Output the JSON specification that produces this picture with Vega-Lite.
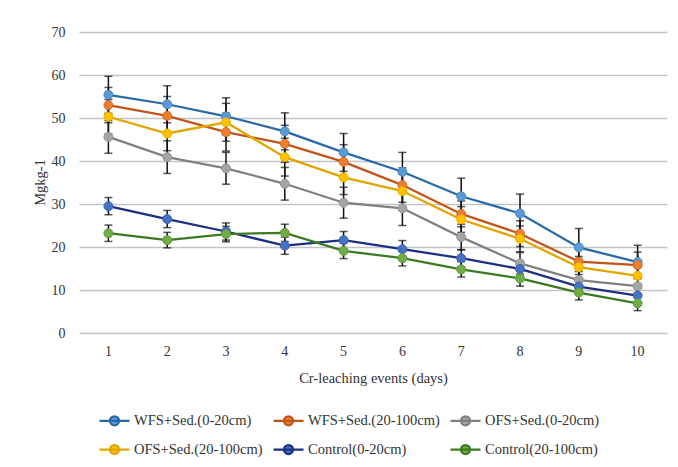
{
  "$schema": "https://vega.github.io/schema/vega-lite/v6.json",
  "width": 588,
  "height": 301,
  "autosize": "none",
  "padding": {"left": 79, "top": 32, "right": 11, "bottom": 134},
  "background": "white",
  "config": {
    "view": {"stroke": null},
    "font": "Liberation Serif",
    "axis": {"labelFont": "Liberation Serif", "titleFont": "Liberation Serif", "labelColor": "#333333", "titleColor": "#333333", "labelFontSize": 14, "titleFontSize": 14.5, "titleFontWeight": "normal"},
    "legend": {"labelFont": "Liberation Serif", "labelFontSize": 14.5, "labelColor": "#333333"}
  },
  "data": {
    "values": [
      {"day": 1, "series": "WFS+Sed.(0-20cm)", "value": 55.4, "err": 4.3},
      {"day": 2, "series": "WFS+Sed.(0-20cm)", "value": 53.2, "err": 4.3},
      {"day": 3, "series": "WFS+Sed.(0-20cm)", "value": 50.4, "err": 4.3},
      {"day": 4, "series": "WFS+Sed.(0-20cm)", "value": 46.9, "err": 4.3},
      {"day": 5, "series": "WFS+Sed.(0-20cm)", "value": 42.0, "err": 4.4},
      {"day": 6, "series": "WFS+Sed.(0-20cm)", "value": 37.5, "err": 4.5},
      {"day": 7, "series": "WFS+Sed.(0-20cm)", "value": 31.8, "err": 4.2},
      {"day": 8, "series": "WFS+Sed.(0-20cm)", "value": 27.8, "err": 4.5},
      {"day": 9, "series": "WFS+Sed.(0-20cm)", "value": 19.9, "err": 4.4},
      {"day": 10, "series": "WFS+Sed.(0-20cm)", "value": 16.5, "err": 3.9},
      {"day": 1, "series": "WFS+Sed.(20-100cm)", "value": 53.0, "err": 4.1},
      {"day": 2, "series": "WFS+Sed.(20-100cm)", "value": 50.5, "err": 4.5},
      {"day": 3, "series": "WFS+Sed.(20-100cm)", "value": 46.7, "err": 4.4},
      {"day": 4, "series": "WFS+Sed.(20-100cm)", "value": 44.0, "err": 4.3},
      {"day": 5, "series": "WFS+Sed.(20-100cm)", "value": 39.8, "err": 4.0},
      {"day": 6, "series": "WFS+Sed.(20-100cm)", "value": 34.4, "err": 4.0},
      {"day": 7, "series": "WFS+Sed.(20-100cm)", "value": 27.7, "err": 3.0},
      {"day": 8, "series": "WFS+Sed.(20-100cm)", "value": 23.1, "err": 3.0},
      {"day": 9, "series": "WFS+Sed.(20-100cm)", "value": 16.6, "err": 3.0},
      {"day": 10, "series": "WFS+Sed.(20-100cm)", "value": 15.8, "err": 3.0},
      {"day": 1, "series": "OFS+Sed.(0-20cm)", "value": 45.6, "err": 3.8},
      {"day": 2, "series": "OFS+Sed.(0-20cm)", "value": 40.9, "err": 3.8},
      {"day": 3, "series": "OFS+Sed.(0-20cm)", "value": 38.3, "err": 3.7},
      {"day": 4, "series": "OFS+Sed.(0-20cm)", "value": 34.7, "err": 3.8},
      {"day": 5, "series": "OFS+Sed.(0-20cm)", "value": 30.3, "err": 3.6},
      {"day": 6, "series": "OFS+Sed.(0-20cm)", "value": 29.0, "err": 4.0},
      {"day": 7, "series": "OFS+Sed.(0-20cm)", "value": 22.3, "err": 3.0},
      {"day": 8, "series": "OFS+Sed.(0-20cm)", "value": 16.2, "err": 2.5},
      {"day": 9, "series": "OFS+Sed.(0-20cm)", "value": 12.3, "err": 2.0},
      {"day": 10, "series": "OFS+Sed.(0-20cm)", "value": 10.9, "err": 2.0},
      {"day": 1, "series": "OFS+Sed.(20-100cm)", "value": 50.3, "err": 4.0},
      {"day": 2, "series": "OFS+Sed.(20-100cm)", "value": 46.4, "err": 4.0},
      {"day": 3, "series": "OFS+Sed.(20-100cm)", "value": 49.0, "err": 4.4},
      {"day": 4, "series": "OFS+Sed.(20-100cm)", "value": 40.9, "err": 4.4},
      {"day": 5, "series": "OFS+Sed.(20-100cm)", "value": 36.2, "err": 4.0},
      {"day": 6, "series": "OFS+Sed.(20-100cm)", "value": 33.0, "err": 4.0},
      {"day": 7, "series": "OFS+Sed.(20-100cm)", "value": 26.4, "err": 3.0},
      {"day": 8, "series": "OFS+Sed.(20-100cm)", "value": 21.9, "err": 3.0},
      {"day": 9, "series": "OFS+Sed.(20-100cm)", "value": 15.3, "err": 2.5},
      {"day": 10, "series": "OFS+Sed.(20-100cm)", "value": 13.3, "err": 2.0},
      {"day": 1, "series": "Control(0-20cm)", "value": 29.5, "err": 2.0},
      {"day": 2, "series": "Control(0-20cm)", "value": 26.5, "err": 2.0},
      {"day": 3, "series": "Control(0-20cm)", "value": 23.6, "err": 2.0},
      {"day": 4, "series": "Control(0-20cm)", "value": 20.3, "err": 2.0},
      {"day": 5, "series": "Control(0-20cm)", "value": 21.6, "err": 2.0},
      {"day": 6, "series": "Control(0-20cm)", "value": 19.5, "err": 2.0},
      {"day": 7, "series": "Control(0-20cm)", "value": 17.4, "err": 2.0},
      {"day": 8, "series": "Control(0-20cm)", "value": 14.9, "err": 1.8},
      {"day": 9, "series": "Control(0-20cm)", "value": 10.8, "err": 1.8},
      {"day": 10, "series": "Control(0-20cm)", "value": 8.7, "err": 1.7},
      {"day": 1, "series": "Control(20-100cm)", "value": 23.2, "err": 1.9},
      {"day": 2, "series": "Control(20-100cm)", "value": 21.6, "err": 1.8},
      {"day": 3, "series": "Control(20-100cm)", "value": 23.0, "err": 1.8},
      {"day": 4, "series": "Control(20-100cm)", "value": 23.3, "err": 2.0},
      {"day": 5, "series": "Control(20-100cm)", "value": 19.1, "err": 1.8},
      {"day": 6, "series": "Control(20-100cm)", "value": 17.4, "err": 1.8},
      {"day": 7, "series": "Control(20-100cm)", "value": 14.8, "err": 1.8},
      {"day": 8, "series": "Control(20-100cm)", "value": 12.7, "err": 1.8},
      {"day": 9, "series": "Control(20-100cm)", "value": 9.4, "err": 1.7},
      {"day": 10, "series": "Control(20-100cm)", "value": 6.9, "err": 1.7}
    ]
  },
  "encoding": {
    "x": {
      "field": "day", "type": "ordinal",
      "scale": {"type": "band", "paddingInner": 0, "paddingOuter": 0},
      "axis": {"title": "Cr-leaching events (days)", "labelAngle": 0, "ticks": false, "domain": false, "grid": false, "labelPadding": 11, "titleY": 45, "titleBaseline": "middle"}
    },
    "y": {
      "field": "value", "type": "quantitative",
      "scale": {"domain": [0, 70], "nice": false},
      "axis": {"title": "Mgkg-1", "values": [0, 10, 20, 30, 40, 50, 60, 70], "ticks": false, "domain": false, "gridColor": "#C4C4C4", "gridWidth": 1.5, "labelPadding": 14, "titleX": -39, "titleY": 150, "titleBaseline": "middle", "titleAngle": -90}
    }
  },
  "layer": [
    {
      "mark": {"type": "errorbar", "ticks": {"size": 8, "color": "#111111"}, "color": "#111111", "thickness": 1.5},
      "encoding": {
        "y": {"field": "value", "type": "quantitative", "title": "Mgkg-1"},
        "yError": {"field": "err"},
        "detail": {"field": "series"}
      }
    },
    {
      "mark": {"type": "line", "strokeWidth": 2.25},
      "encoding": {
        "color": {
          "field": "series", "type": "nominal",
          "scale": {
            "domain": ["WFS+Sed.(0-20cm)", "WFS+Sed.(20-100cm)", "OFS+Sed.(0-20cm)", "OFS+Sed.(20-100cm)", "Control(0-20cm)", "Control(20-100cm)"],
            "range": ["#2A69A8", "#C2541A", "#808080", "#E2A500", "#1C2E80", "#3C7A22"]
          },
          "legend": {
            "title": null, "orient": "none", "legendX": 19, "legendY": 372, "direction": "horizontal", "columns": 3,
            "symbolType": "M-1,0L1,0M-0.3,0a0.3,0.3 0 1,0 0.6,0a0.3,0.3 0 1,0 -0.6,0",
            "symbolSize": 900, "symbolStrokeWidth": 2.25, "labelOffset": 3, "columnPadding": 6, "rowPadding": 3,
            "encode": {"symbols": {"update": {"fill": {"scale": "fill", "field": "value"}, "stroke": {"scale": "color", "field": "value"}}}}
          }
        }
      }
    },
    {
      "mark": {"type": "point", "filled": true, "size": 80, "strokeWidth": 1, "opacity": 1},
      "encoding": {
        "fill": {
          "field": "series", "type": "nominal",
          "scale": {
            "domain": ["WFS+Sed.(0-20cm)", "WFS+Sed.(20-100cm)", "OFS+Sed.(0-20cm)", "OFS+Sed.(20-100cm)", "Control(0-20cm)", "Control(20-100cm)"],
            "range": ["#5B9BD5", "#ED7D31", "#A5A5A5", "#FFC000", "#4472C4", "#70AD47"]
          },
          "legend": null
        },
        "stroke": {
          "field": "series", "type": "nominal",
          "scale": {
            "domain": ["WFS+Sed.(0-20cm)", "WFS+Sed.(20-100cm)", "OFS+Sed.(0-20cm)", "OFS+Sed.(20-100cm)", "Control(0-20cm)", "Control(20-100cm)"],
            "range": ["#4A88C4", "#D86A25", "#969696", "#EDB200", "#3A62AE", "#62993C"]
          },
          "legend": null
        }
      }
    }
  ]
}
